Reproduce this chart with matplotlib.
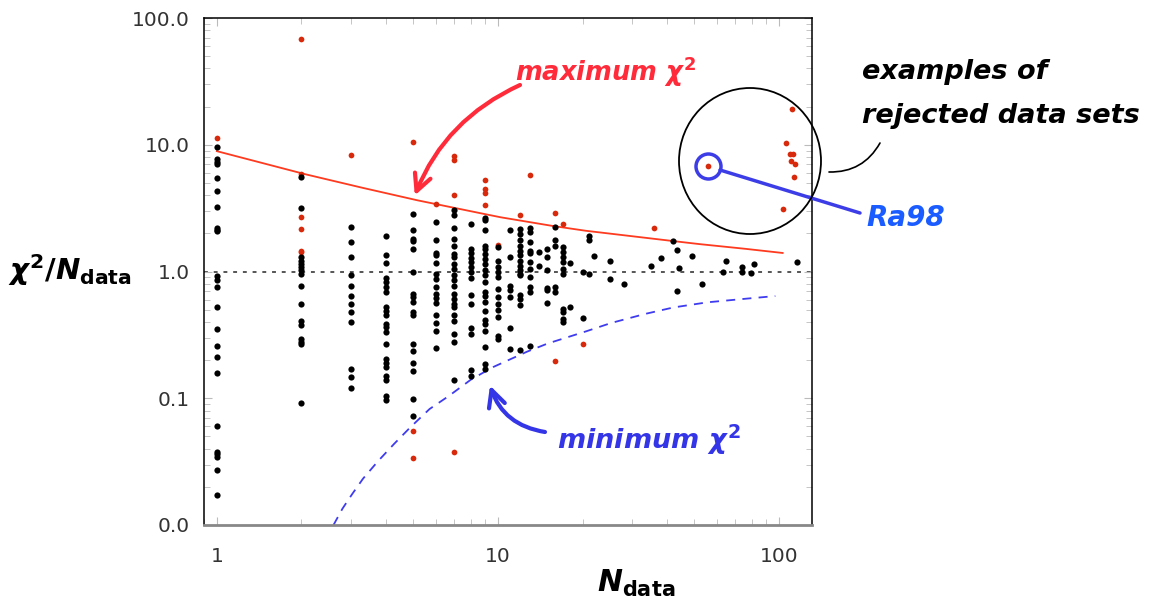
import numpy as np
import matplotlib
matplotlib.use("Agg")
import matplotlib.pyplot as plt
from matplotlib.patches import Ellipse

plt.rcParams.update({'mathtext.fontset': 'custom',
                     'mathtext.it': 'DejaVu Sans:bold:italic',
                     'mathtext.rm': 'DejaVu Sans:bold',
                     'mathtext.bf': 'DejaVu Sans:bold'})

# accepted data sets (black), grouped by N_data
acc_n = [1, 2, 3, 4, 5, 6, 7, 8, 9, 10, 11, 12, 13, 14, 15, 16, 17, 18, 20, 21, 22, 25, 28,
         35, 38, 42, 43.5, 44, 49, 53, 63, 65, 73.6, 79.6, 81.6, 116]
acc_vals = [
    [9.57, 7.69, 7.34, 7.08, 5.42, 4.28, 3.22, 2.22, 2.14, 2.07, 0.92, 0.85, 0.75, 0.52, 0.35,
     0.26, 0.21, 0.159, 0.060, 0.0375, 0.0365, 0.0347, 0.027, 0.0174],
    [5.52, 3.18, 1.30, 1.22, 1.15, 1.08, 1.02, 0.96, 0.775, 0.552, 0.41, 0.375, 0.295, 0.28,
     0.266, 0.092],
    [2.25, 1.72, 1.31, 0.93, 0.775, 0.64, 0.55, 0.48, 0.40, 0.17, 0.147, 0.12],
    [1.9, 1.34, 1.17, 0.89, 0.82, 0.75, 0.687, 0.52, 0.49, 0.45, 0.387, 0.364, 0.332, 0.27,
     0.205, 0.19, 0.178, 0.149, 0.14, 0.105, 0.096],
    [2.85, 2.11, 1.81, 1.73, 1.51, 1.0, 0.67, 0.63, 0.57, 0.48, 0.45, 0.27, 0.238, 0.19, 0.163,
     0.098, 0.072],
    [2.48, 1.76, 1.40, 1.34, 1.17, 0.947, 0.87, 0.76, 0.67, 0.62, 0.56, 0.45, 0.39, 0.34, 0.247],
    [3.03, 2.80, 2.21, 1.81, 1.60, 1.38, 1.30, 1.15, 1.05, 0.93, 0.86, 0.775, 0.67, 0.61, 0.556,
     0.52, 0.45, 0.41, 0.32, 0.277, 0.14],
    [2.35, 1.51, 1.39, 1.28, 1.18, 1.08, 0.99, 0.89, 0.655, 0.556, 0.36, 0.32, 0.166, 0.149],
    [2.65, 2.53, 2.11, 1.6, 1.51, 1.38, 1.26, 1.14, 1.03, 0.93, 0.82, 0.687, 0.635, 0.57, 0.49,
     0.416, 0.387, 0.34, 0.256, 0.185, 0.17],
    [1.55, 1.22, 1.08, 1.0, 0.9, 0.73, 0.63, 0.556, 0.5, 0.436, 0.31, 0.295],
    [2.11, 1.31, 0.775, 0.71, 0.63, 0.36, 0.245],
    [2.17, 1.98, 1.76, 1.6, 1.46, 1.34, 1.22, 1.115, 1.03, 0.96, 0.93, 0.647, 0.61, 0.54, 0.24],
    [2.2, 2.04, 1.72, 1.46, 1.40, 1.18, 1.05, 0.9, 0.75, 0.687, 0.26],
    [1.42, 1.115],
    [1.51, 1.30, 1.03, 0.74, 0.71, 0.56],
    [2.26, 1.76, 1.6, 0.76, 0.687],
    [1.55, 1.42, 1.3, 1.18, 1.05, 0.96, 0.51, 0.48, 0.42, 0.40],
    [1.16, 0.52],
    [1.0, 0.43],
    [1.89, 1.78, 0.947],
    [1.33],
    [1.2, 0.875],
    [0.8],
    [1.1], [1.28], [1.73], [1.48, 0.70], [1.06], [1.32], [0.80], [1.0], [1.2],
    [1.08, 0.99], [0.98], [1.15], [1.19],
]

# rejected data sets (red)
rej_n = [1, 2, 2, 2, 2, 2, 2, 3, 5, 5, 5, 6, 7, 7, 7, 7, 9, 9, 9, 9, 10, 12, 13, 16, 16, 17,
         20, 36, 56, 111, 106, 109, 112, 110, 114, 113, 103]
rej_vals = [11.4, 68.5, 5.93, 2.68, 2.17, 1.46, 1.42, 8.36, 10.6, 0.055, 0.034, 3.42, 8.2, 7.6,
            4.05, 0.0377, 5.23, 4.5, 4.15, 3.37, 1.63, 2.77, 5.82, 2.9, 0.198, 2.38,
            0.27, 2.2, 6.77, 19.0, 10.4, 8.38, 8.38, 7.51, 7.07, 5.55, 3.12]

# Ra98 data set
ra98_n, ra98_val = 56, 6.77

# limits
max_n = [1, 2, 3, 5, 7, 10, 15, 20, 30, 50, 70, 103]
max_vals = [8.9, 5.95, 4.8, 3.7, 3.18, 2.7, 2.32, 2.11, 1.9, 1.66, 1.54, 1.40]
min_n = [2.6, 2.8, 3.0, 3.3, 3.7, 4.2, 4.8, 5.7, 6.6, 8, 9.6, 12.5, 15, 20, 25, 33, 42, 55, 70, 97]
min_vals = [0.010, 0.0135, 0.017, 0.023, 0.031, 0.042, 0.057, 0.082, 0.102, 0.14, 0.176, 0.23,
            0.27, 0.33, 0.39, 0.46, 0.52, 0.57, 0.60, 0.64]

yticks = [0.01, 0.1, 1, 10, 100]
ylabels = ["0.0", "0.1", "1.0", "10.0", "100.0"]
xticks = [1, 10, 100]
xlabels = ["1", "10", "100"]

W, H = 1163, 611
fig = plt.figure(figsize=(W / 100, H / 100), dpi=100)
ax = fig.add_axes([204 / W, 1 - 525 / H, 608 / W, 507 / H])

ax.set_xscale('log')
ax.set_yscale('log')
ax.set_xlim(0.9, 131)
ax.set_ylim(0.01, 100)

ax.axhline(1.0, color='#555555', lw=1.4, ls=(0, (2, 3)), zorder=1)

# curves through the read points (log-log interpolation only for drawing)
def smooth(xs, ys):
    lx = np.log10(xs)
    ly = np.log10(ys)
    t = np.linspace(lx[0], lx[-1], 300)
    return 10 ** t, 10 ** np.interp(t, lx, ly)

mx, my = smooth(max_n, max_vals)
ax.plot(mx, my, color='#ff3a1f', lw=1.3, zorder=2)
nx, ny = smooth(min_n, min_vals)
ax.plot(nx, ny, color='#3f3cf0', lw=1.3, ls=(0, (5, 4)), zorder=2)

xs, ys = [], []
for n, vals in zip(acc_n, acc_vals):
    xs += [n] * len(vals)
    ys += vals
ax.scatter(rej_n, rej_vals, s=17, color='#d8290c', lw=0, zorder=3)
ax.scatter(xs, ys, s=20, color='black', lw=0, zorder=4)

# small circle around Ra98
ax.plot([ra98_n], [ra98_val], marker='o', ms=18, mfc='none', mec='#3d3de8', mew=2.5, zorder=5)

ax.set_yticks(yticks)
ax.set_yticklabels(ylabels)
ax.set_xticks(xticks)
ax.set_xticklabels(xlabels)
ax.tick_params(which='both', direction='in', top=True, right=True, color='#bbbbbb',
               labelsize=14.5, labelcolor='#333333')
ax.tick_params(which='major', length=6)
ax.tick_params(which='minor', length=4)
ax.tick_params(axis='x', pad=16)
ax.tick_params(axis='y', pad=10)
for s in ['left', 'top', 'right']:
    ax.spines[s].set_color('black')
    ax.spines[s].set_linewidth(1.1)
ax.spines['bottom'].set_color('#888888')
ax.spines['bottom'].set_linewidth(2)

def fp(x, y):
    return (x / W, 1 - y / H)

# axis labels
fig.text(*fp(8, 270), r'$\chi^2/N_{\mathrm{data}}$', fontsize=21, ha='left', va='center')
fig.text(*fp(636, 583), r'$N_{\mathrm{data}}$', fontsize=21.5, ha='center', va='center')

# maximum / minimum annotations
fig.text(*fp(515, 72), r'maximum $\chi^2$', fontsize=18.5, color='#ff2a3a', style='italic',
         weight='bold', ha='left', va='center')
ax.annotate('', xy=(5.06, 3.98), xycoords='data', xytext=(520, H - 85), textcoords='figure pixels',
            arrowprops=dict(arrowstyle='->,head_length=1.2,head_width=0.6', color='#ff2a3a', lw=3,
                            connectionstyle='arc3,rad=0.2', shrinkA=0, shrinkB=0))
fig.text(*fp(557, 440), r'minimum $\chi^2$', fontsize=19.5, color='#3535e8', style='italic',
         weight='bold', ha='left', va='center')
ax.annotate('', xy=(9.37, 0.126), xycoords='data', xytext=(545, H - 432), textcoords='figure pixels',
            arrowprops=dict(arrowstyle='->,head_length=1.2,head_width=0.6', color='#3535e8', lw=3,
                            connectionstyle='arc3,rad=-0.3', shrinkA=0, shrinkB=0))

# big circle of rejected sets
fig.patches.append(Ellipse(fp(750, 161), 142 / W, 146 / H, transform=fig.transFigure,
                           fill=False, ec='black', lw=1.3, zorder=6))
fig.text(*fp(862, 72), 'examples of', fontsize=19.5, style='italic', weight='bold',
         ha='left', va='center')
fig.text(*fp(862, 116), 'rejected data sets', fontsize=19.5, style='italic', weight='bold',
         ha='left', va='center')
ax.annotate('', xy=(880, H - 143), xycoords='figure pixels', xytext=(829, H - 172),
            textcoords='figure pixels',
            arrowprops=dict(arrowstyle='-', color='black', lw=1.2,
                            connectionstyle='arc3,rad=0.3', shrinkA=0, shrinkB=0))

# Ra98 label
ax.annotate('', xy=(860, H - 213), xycoords='figure pixels', xytext=(720, H - 170),
            textcoords='figure pixels', annotation_clip=False,
            arrowprops=dict(arrowstyle='-', color='#3d3de8', lw=2.5, shrinkA=0, shrinkB=0))
fig.text(*fp(866, 218), 'Ra98', fontsize=20, color='#1a5cff', style='italic', weight='bold',
         ha='left', va='center')

fig.savefig('out.png', dpi=100)
